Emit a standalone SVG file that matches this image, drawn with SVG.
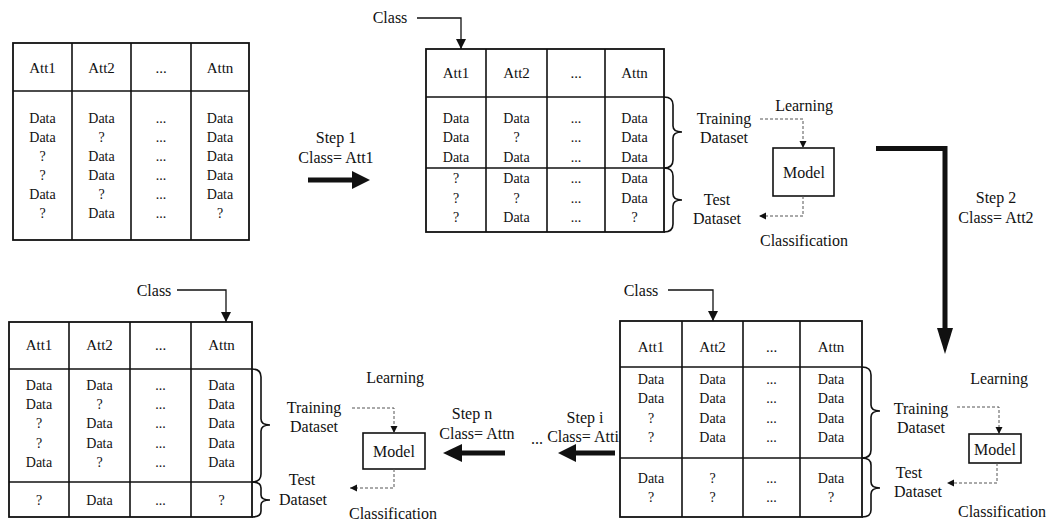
<svg xmlns="http://www.w3.org/2000/svg" width="1048" height="520" viewBox="0 0 1048 520">
<defs>
<style>
text{font-family:"Liberation Serif","Times New Roman",serif;fill:#111;text-anchor:middle;dominant-baseline:central}
.t{font-size:14px}
.h{font-size:15px}
.l{font-size:16px}
.tb{fill:#fff;stroke:#111;stroke-width:1.8}
.ln{stroke:#111;stroke-width:1.6;fill:none}
.br{stroke:#111;stroke-width:1.6;fill:none}
.thin{stroke:#111;stroke-width:1.3;fill:none}
.dot{stroke:#555;stroke-width:1;stroke-dasharray:3 2;fill:none}
.thick{stroke:#111;stroke-width:5;fill:none}
.mb{fill:#fff;stroke:#111;stroke-width:1.6}
</style>
<marker id="ah" viewBox="0 0 10 10" refX="10" refY="5" markerWidth="7" markerHeight="9" markerUnits="userSpaceOnUse" orient="auto"><path d="M0,0 L10,5 L0,10 z" fill="#111"/></marker>
<marker id="ahs" viewBox="0 0 10 10" refX="10" refY="5" markerWidth="10" markerHeight="10" markerUnits="userSpaceOnUse" orient="auto"><path d="M0,0 L10,5 L0,10 z" fill="#111"/></marker>
</defs>

<!-- Table 1: initial -->
<g id="table1">
<rect class="tb" x="13" y="43" width="236" height="197"/>
<line class="ln" x1="13" y1="91" x2="249" y2="91"/>
<line class="ln" x1="72" y1="43" x2="72" y2="240"/>
<line class="ln" x1="131" y1="43" x2="131" y2="240"/>
<line class="ln" x1="191" y1="43" x2="191" y2="240"/>
<text class="h" x="42.5" y="68">Att1</text><text class="h" x="101.5" y="68">Att2</text><text class="h" x="161" y="68">...</text><text class="h" x="220" y="68">Attn</text>
<text class="t" x="42.5" y="118">Data</text><text class="t" x="42.5" y="137">Data</text><text class="t" x="42.5" y="156">?</text><text class="t" x="42.5" y="175">?</text><text class="t" x="42.5" y="194">Data</text><text class="t" x="42.5" y="213">?</text>
<text class="t" x="101.5" y="118">Data</text><text class="t" x="101.5" y="137">?</text><text class="t" x="101.5" y="156">Data</text><text class="t" x="101.5" y="175">Data</text><text class="t" x="101.5" y="194">?</text><text class="t" x="101.5" y="213">Data</text>
<text class="t" x="161" y="118">...</text><text class="t" x="161" y="137">...</text><text class="t" x="161" y="156">...</text><text class="t" x="161" y="175">...</text><text class="t" x="161" y="194">...</text><text class="t" x="161" y="213">...</text>
<text class="t" x="220" y="118">Data</text><text class="t" x="220" y="137">Data</text><text class="t" x="220" y="156">Data</text><text class="t" x="220" y="175">Data</text><text class="t" x="220" y="194">Data</text><text class="t" x="220" y="213">?</text>
</g>

<!-- Table 2: step 1 -->
<g id="table2">
<rect class="tb" x="426" y="49" width="238" height="183"/>
<line class="ln" x1="426" y1="97" x2="664" y2="97"/>
<line class="ln" x1="426" y1="168" x2="664" y2="168"/>
<line class="ln" x1="486" y1="49" x2="486" y2="232"/>
<line class="ln" x1="547" y1="49" x2="547" y2="232"/>
<line class="ln" x1="605" y1="49" x2="605" y2="232"/>
<text class="h" x="456" y="73">Att1</text><text class="h" x="516.5" y="73">Att2</text><text class="h" x="576" y="73">...</text><text class="h" x="634.5" y="73">Attn</text>
<text class="t" x="456" y="118">Data</text><text class="t" x="456" y="137">Data</text><text class="t" x="456" y="157">Data</text><text class="t" x="456" y="178">?</text><text class="t" x="456" y="198">?</text><text class="t" x="456" y="217">?</text>
<text class="t" x="516.5" y="118">Data</text><text class="t" x="516.5" y="137">?</text><text class="t" x="516.5" y="157">Data</text><text class="t" x="516.5" y="178">Data</text><text class="t" x="516.5" y="198">?</text><text class="t" x="516.5" y="217">Data</text>
<text class="t" x="576" y="118">...</text><text class="t" x="576" y="137">...</text><text class="t" x="576" y="157">...</text><text class="t" x="576" y="178">...</text><text class="t" x="576" y="198">...</text><text class="t" x="576" y="217">...</text>
<text class="t" x="634.5" y="118">Data</text><text class="t" x="634.5" y="137">Data</text><text class="t" x="634.5" y="157">Data</text><text class="t" x="634.5" y="178">Data</text><text class="t" x="634.5" y="198">Data</text><text class="t" x="634.5" y="217">?</text>
<path class="br" d="M664,97 Q673,97 673,105 L673,126 Q673,132 682,132 Q673,132 673,138 L673,160 Q673,168 664,168"/>
<path class="br" d="M664,168 Q673,168 673,176 L673,194 Q673,200 682,200 Q673,200 673,206 L673,224 Q673,232 664,232"/>
<text class="l" x="390" y="17">Class</text>
<text class="l" x="724" y="118">Training</text><text class="l" x="724" y="137">Dataset</text>
<text class="l" x="717" y="199">Test</text><text class="l" x="717" y="218">Dataset</text>
</g>

<g id="model1">
<rect class="mb" x="773" y="148" width="61" height="48"/>
<text class="l" x="804" y="172">Model</text>
<text class="l" x="804" y="105">Learning</text>
<text class="l" x="804" y="240">Classification</text>
</g>

<!-- Table 3: step i -->
<g id="table3">
<rect class="tb" x="620" y="321" width="242" height="196"/>
<line class="ln" x1="620" y1="367" x2="862" y2="367"/>
<line class="ln" x1="620" y1="458" x2="862" y2="458"/>
<line class="ln" x1="682" y1="321" x2="682" y2="517"/>
<line class="ln" x1="743" y1="321" x2="743" y2="517"/>
<line class="ln" x1="800" y1="321" x2="800" y2="517"/>
<text class="h" x="651" y="347">Att1</text><text class="h" x="712.5" y="347">Att2</text><text class="h" x="771.5" y="347">...</text><text class="h" x="831" y="347">Attn</text>
<text class="t" x="651" y="379">Data</text><text class="t" x="651" y="398">Data</text><text class="t" x="651" y="418">?</text><text class="t" x="651" y="437">?</text>
<text class="t" x="712.5" y="379">Data</text><text class="t" x="712.5" y="398">Data</text><text class="t" x="712.5" y="418">Data</text><text class="t" x="712.5" y="437">Data</text>
<text class="t" x="771.5" y="379">...</text><text class="t" x="771.5" y="398">...</text><text class="t" x="771.5" y="418">...</text><text class="t" x="771.5" y="437">...</text>
<text class="t" x="831" y="379">Data</text><text class="t" x="831" y="398">Data</text><text class="t" x="831" y="418">Data</text><text class="t" x="831" y="437">Data</text>
<text class="t" x="651" y="478">Data</text><text class="t" x="651" y="497">?</text>
<text class="t" x="712.5" y="478">?</text><text class="t" x="712.5" y="497">?</text>
<text class="t" x="771.5" y="478">...</text><text class="t" x="771.5" y="497">...</text>
<text class="t" x="831" y="478">Data</text><text class="t" x="831" y="497">?</text>
<path class="br" d="M862,367 Q871,367 871,375 L871,405 Q871,411 880,411 Q871,411 871,417 L871,450 Q871,458 862,458"/>
<path class="br" d="M862,458 Q871,458 871,465 L871,482 Q871,488 880,488 Q871,488 871,494 L871,510 Q871,517 862,517"/>
<text class="l" x="641" y="290">Class</text>
<text class="l" x="921" y="408">Training</text><text class="l" x="921" y="427">Dataset</text>
<text class="l" x="909" y="472">Test</text><text class="l" x="918" y="491">Dataset</text>
</g>

<g id="model3">
<rect class="mb" x="969" y="434" width="52" height="29"/>
<text class="l" x="995" y="449">Model</text>
<text class="l" x="999" y="378">Learning</text>
<text class="l" x="1002" y="511">Classification</text>
</g>

<!-- Table 4: step n -->
<g id="table4">
<rect class="tb" x="9" y="322" width="243" height="195"/>
<line class="ln" x1="9" y1="369" x2="252" y2="369"/>
<line class="ln" x1="9" y1="482" x2="252" y2="482"/>
<line class="ln" x1="69" y1="322" x2="69" y2="517"/>
<line class="ln" x1="130" y1="322" x2="130" y2="517"/>
<line class="ln" x1="191" y1="322" x2="191" y2="517"/>
<text class="h" x="39" y="345">Att1</text><text class="h" x="99.5" y="345">Att2</text><text class="h" x="160.5" y="345">...</text><text class="h" x="221.5" y="345">Attn</text>
<text class="t" x="39" y="385">Data</text><text class="t" x="39" y="404">Data</text><text class="t" x="39" y="423">?</text><text class="t" x="39" y="443">?</text><text class="t" x="39" y="462">Data</text>
<text class="t" x="99.5" y="385">Data</text><text class="t" x="99.5" y="404">?</text><text class="t" x="99.5" y="423">Data</text><text class="t" x="99.5" y="443">Data</text><text class="t" x="99.5" y="462">?</text>
<text class="t" x="160.5" y="385">...</text><text class="t" x="160.5" y="404">...</text><text class="t" x="160.5" y="423">...</text><text class="t" x="160.5" y="443">...</text><text class="t" x="160.5" y="462">...</text>
<text class="t" x="221.5" y="385">Data</text><text class="t" x="221.5" y="404">Data</text><text class="t" x="221.5" y="423">Data</text><text class="t" x="221.5" y="443">Data</text><text class="t" x="221.5" y="462">Data</text>
<text class="t" x="39" y="500">?</text><text class="t" x="99.5" y="500">Data</text><text class="t" x="160.5" y="500">...</text><text class="t" x="221.5" y="500">?</text>
<path class="br" d="M252,369 Q261,369 261,377 L261,419 Q261,425 270,425 Q261,425 261,431 L261,474 Q261,482 252,482"/>
<path class="br" d="M252,482 Q261,482 261,488 L261,495 Q261,500 270,500 Q261,500 261,505 L261,511 Q261,517 252,517"/>
<text class="l" x="154" y="290">Class</text>
<text class="l" x="314" y="407">Training</text><text class="l" x="314" y="426">Dataset</text>
<text class="l" x="302" y="479">Test</text><text class="l" x="303" y="499">Dataset</text>
</g>

<g id="model4">
<rect class="mb" x="363" y="433" width="62" height="36"/>
<text class="l" x="394" y="451">Model</text>
<text class="l" x="395" y="377">Learning</text>
<text class="l" x="393" y="513">Classification</text>
</g>

<g id="steps">
<text class="l" x="336" y="137">Step 1</text>
<text class="l" x="336" y="157">Class= Att1</text>
<text class="l" x="996" y="197">Step 2</text>
<text class="l" x="996" y="217">Class= Att2</text>
<text class="l" x="585" y="417">Step i</text>
<text class="l" x="583" y="436">Class= Atti</text>
<text class="l" x="537" y="438">...</text>
<text class="l" x="472" y="413">Step n</text>
<text class="l" x="477" y="433">Class= Attn</text>
</g>

<g id="connectors">
<!-- class pointers -->
<path class="thin" d="M417,18 L461,18 L461,49" marker-end="url(#ahs)"/>
<path class="thin" d="M177,290 L226,290 L226,322" marker-end="url(#ahs)"/>
<path class="thin" d="M668,290 L713,290 L713,321" marker-end="url(#ahs)"/>
<!-- learning / classification -->
<path class="dot" d="M760,119 L803,119 L803,148" marker-end="url(#ah)"/>
<path class="dot" d="M803,196 L803,216 L759,216" marker-end="url(#ah)"/>
<path class="dot" d="M352,408 L394,408 L394,433" marker-end="url(#ah)"/>
<path class="dot" d="M394,469 L394,488 L350,488" marker-end="url(#ah)"/>
<path class="dot" d="M957,407 L999,407 L999,434" marker-end="url(#ah)"/>
<path class="dot" d="M997,463 L997,483 L947,483" marker-end="url(#ah)"/>
<!-- thick step arrows -->
<line class="thick" x1="308" y1="180" x2="354" y2="180"/>
<polygon points="352,171 370,180 352,189" fill="#111"/>
<path class="thick" d="M876,148.5 L945,148.5 L945,330"/>
<polygon points="937,328 953,328 945,354" fill="#111"/>
<line class="thick" x1="615" y1="453" x2="574" y2="453"/>
<polygon points="576,444 558,453 576,462" fill="#111"/>
<line class="thick" x1="505" y1="453" x2="460" y2="453"/>
<polygon points="462,444 443,453 462,462" fill="#111"/>
</g>
</svg>
